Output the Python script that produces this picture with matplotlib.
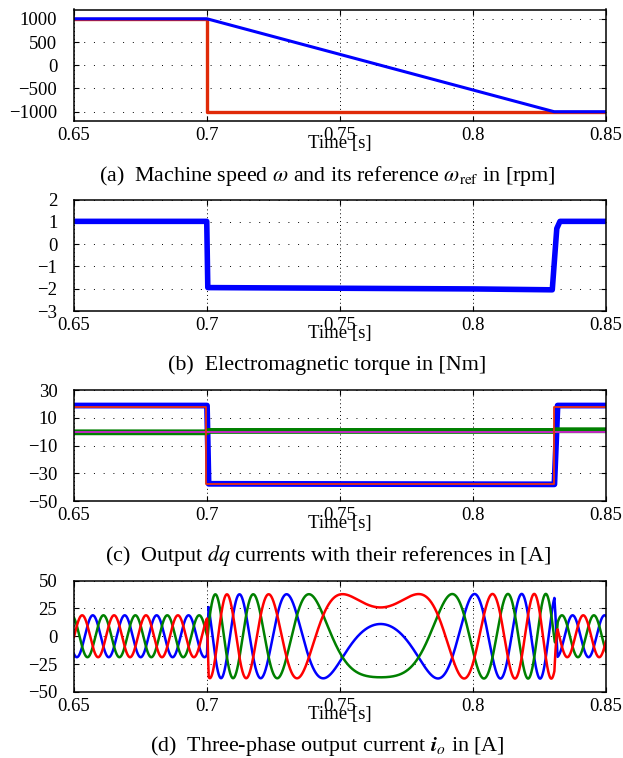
import numpy as np
import matplotlib
matplotlib.use("Agg")
import matplotlib.pyplot as plt

plt.rcParams['font.family'] = ['Liberation Serif', 'DejaVu Serif']
plt.rcParams['mathtext.fontset'] = 'stix'

# (a) machine speed and reference [rpm]
t_speed = [0.65, 0.70, 0.8305, 0.85]
speed = [1000, 1000, -1000, -1000]
t_speed_ref = [0.65, 0.7001, 0.7001, 0.85]
speed_ref = [1000, 1000, -1000, -1000]

# (b) electromagnetic torque [Nm]
t_torque = [0.65, 0.6999, 0.7003, 0.75, 0.80, 0.8298, 0.8315, 0.8327, 0.85]
torque = [1.02, 1.02, -1.95, -1.98, -2.01, -2.05, 0.7, 1.02, 1.02]

# (c) dq currents and references [A]
t_iq = [0.65, 0.7000, 0.7006, 0.8306, 0.8318, 0.85]
iq = [18.8, 18.8, -37.6, -38.0, 18.8, 18.8]
t_iq_ref = [0.65, 0.6998, 0.6998, 0.8304, 0.8304, 0.85]
iq_ref = [18.0, 18.0, -37.5, -37.5, 18.0, 18.0]
t_id = [0.65, 0.7000, 0.7004, 0.8306, 0.8310, 0.85]
id_meas = [-0.5, -0.5, 0.5, 0.5, 1.0, 1.0]
t_id_ref = [0.65, 0.85]
id_ref = [0.0, 0.0]

# (d) three-phase output current, built from speed and iq read above
pole_pairs = 5
phase_offset_deg = -92

xticks = [0.65, 0.7, 0.75, 0.8, 0.85]
xticklabels = ['0.65', '0.7', '0.75', '0.8', '0.85']

captions = [
    r'(a)  Machine speed $\omega$ and its reference $\omega_{\mathrm{ref}}$ in [rpm]',
    '(b)  Electromagnetic torque in [Nm]',
    r'(c)  Output $dq$ currents with their references in [A]',
    r'(d)  Three-phase output current $\mathbfit{i}_o$ in [A]',
]

W, H = 623, 758
fig = plt.figure(figsize=(W / 100, H / 100), dpi=100)

left = 74 / W
width = (606 - 74) / W
tops = [9.5, 199.5, 390, 580.5]
heights = [111.5, 111.5, 111, 111.5]
axes = []
for top, h in zip(tops, heights):
    ax = fig.add_axes([left, 1 - (top + h) / H, width, h / H])
    axes.append(ax)

ax_a, ax_b, ax_c, ax_d = axes

ax_a.plot(t_speed_ref, speed_ref, color='#e02a08', lw=2.4)
ax_a.plot(t_speed, speed, color='#0000ff', lw=2.2)
ax_a.set_ylim(-1200, 1200)
ax_a.set_yticks([1000, 500, 0, -500, -1000])

ax_b.plot(t_torque, torque, color='#0000ff', lw=4.0, solid_joinstyle='round')
ax_b.set_ylim(-3, 2)
ax_b.set_yticks([2, 1, 0, -1, -2, -3])

ax_c.plot(t_iq, iq, color='#0000ff', lw=4.2)
ax_c.plot(t_id, id_meas, color='#008000', lw=4.2)
ax_c.plot(t_id_ref, id_ref, color='#d020d0', lw=1.3)
ax_c.plot(t_iq_ref, iq_ref, color='#e83010', lw=1.3)
ax_c.set_ylim(-50, 30)
ax_c.set_yticks([30, 10, -10, -30, -50])

t = np.linspace(0.65, 0.85, 20001)
dt = t[1] - t[0]
f_el = pole_pairs * np.interp(t, t_speed, speed) / 60.0
theta = np.deg2rad(phase_offset_deg) + 2 * np.pi * np.concatenate([[0], np.cumsum(f_el[:-1]) * dt])
amp = np.interp(t, t_iq, iq)
i_a = amp * np.cos(theta)
i_b = amp * np.cos(theta - 2 * np.pi / 3)
i_c = amp * np.cos(theta - 4 * np.pi / 3)
ax_d.plot(t, i_b, color='#0000ff', lw=1.8)
ax_d.plot(t, i_c, color='#008000', lw=1.8)
ax_d.plot(t, i_a, color='#ff0000', lw=1.8)
ax_d.set_ylim(-50, 50)
ax_d.set_yticks([50, 25, 0, -25, -50])

for ax in axes:
    ax.set_xlim(0.65, 0.85)
    ax.set_xticks(xticks)
    ax.set_xticklabels(xticklabels)
    ax.tick_params(axis='both', direction='in', length=3.5, width=0.8,
                   top=True, right=True, labelsize=13.5)
    ax.tick_params(axis='y', pad=12)
    ax.tick_params(axis='x', pad=4)
    for s in ax.spines.values():
        s.set_linewidth(1.1)
    ax.xaxis.grid(True, color='black', lw=0.7, linestyle=(0, (1, 3)))
    ax.yaxis.grid(True, color='black', lw=0.7, linestyle=(0, (1, 9)))
    ax.set_axisbelow(True)
    ax.set_xlabel('Time [s]', fontsize=13.5, labelpad=-6.5)

cap_y = [176, 365, 555, 746]
for cy, cap in zip(cap_y, captions):
    fig.text(327.5 / W, 1 - cy / H, cap, ha='center', va='center', fontsize=15.8)

fig.savefig('out.png', dpi=100)
